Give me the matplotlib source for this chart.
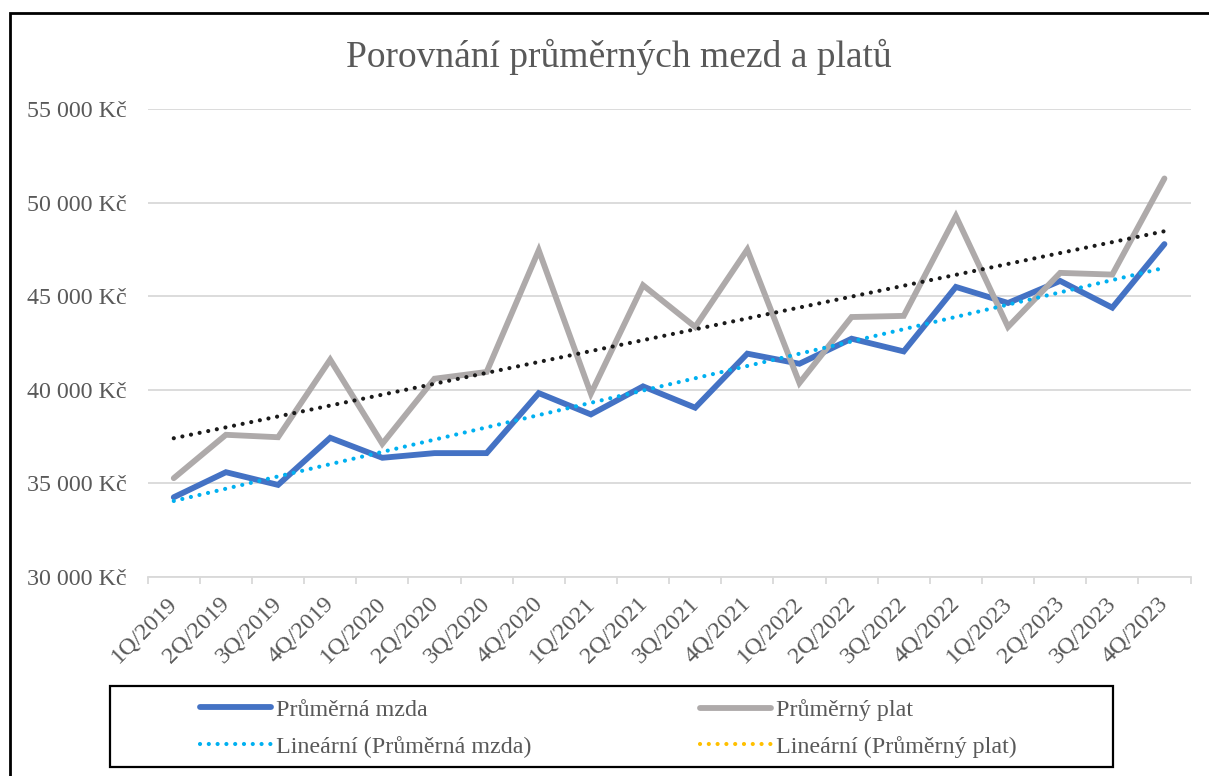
import numpy as np
import matplotlib
matplotlib.use("Agg")
import matplotlib.pyplot as plt
import matplotlib.transforms as mtransforms
from matplotlib.lines import Line2D
from matplotlib.patches import Rectangle

categories = ["1Q/2019", "2Q/2019", "3Q/2019", "4Q/2019",
              "1Q/2020", "2Q/2020", "3Q/2020", "4Q/2020",
              "1Q/2021", "2Q/2021", "3Q/2021", "4Q/2021",
              "1Q/2022", "2Q/2022", "3Q/2022", "4Q/2022",
              "1Q/2023", "2Q/2023", "3Q/2023", "4Q/2023"]
mzda = [34250, 35590, 34910, 37430, 36360, 36610, 36610, 39820,
        38680, 40180, 39040, 41930, 41390, 42730, 42050, 45500,
        44640, 45820, 44390, 47790]
plat = [35270, 37590, 37460, 41610, 37110, 40590, 40950, 47460,
        39790, 45590, 43360, 47500, 40360, 43890, 43950, 49290,
        43360, 46250, 46160, 51300]
yticks = [30000, 35000, 40000, 45000, 50000, 55000]
ytick_labels = ["30 000 Kč", "35 000 Kč", "40 000 Kč", "45 000 Kč", "50 000 Kč", "55 000 Kč"]
title = "Porovnání průměrných mezd a platů"
labels = ["Průměrná mzda", "Průměrný plat", "Lineární (Průměrná mzda)", "Lineární (Průměrný plat)"]

plt.rcParams['font.family'] = ['Liberation Serif', 'DejaVu Serif']

W, H = 1209, 776
fig = plt.figure(figsize=(W / 100, H / 100), dpi=100)

def fx(px):
    return px / W

def fy(py):
    return (H - py) / H

left, right = 147.7, 1190.5
top, bottom = 109.3, 576.7
ax = fig.add_axes([fx(left), fy(bottom), fx(right) - fx(left), fy(top) - fy(bottom)])

x = np.arange(len(categories))
c_mzda = '#4472C4'
c_plat = '#AEAAAA'
c_tr_mzda = '#00B0F0'
c_tr_plat = '#1A1A1A'
c_leg_tr_plat = '#FFC000'
txt = '#595959'
grid = '#D9D9D9'

# trendlines (linear regression as Excel does)
k1, q1 = np.polyfit(x, mzda, 1)
k2, q2 = np.polyfit(x, plat, 1)

ax.plot(x, mzda, color=c_mzda, lw=4.2, solid_joinstyle='miter', solid_capstyle='round', zorder=3)
ax.plot(x, plat, color=c_plat, lw=4.2, solid_joinstyle='miter', solid_capstyle='round', zorder=3)
ax.plot(x, k1 * x + q1, color=c_tr_mzda, lw=3.0, linestyle=(0, (0.01, 2.1)),
        dash_capstyle='round', zorder=4)
ax.plot(x, k2 * x + q2, color=c_tr_plat, lw=3.0, linestyle=(0, (0.01, 2.1)),
        dash_capstyle='round', zorder=4)

ax.set_xlim(-0.5, len(categories) - 0.5)
ax.set_ylim(30000, 55000)
ax.set_yticks(yticks)
ax.set_yticklabels(ytick_labels)
ax.grid(axis='y', color=grid, lw=1.3, zorder=0)
ax.set_axisbelow(True)

for s in ['top', 'right', 'left']:
    ax.spines[s].set_visible(False)
ax.spines['bottom'].set_color(grid)
ax.spines['bottom'].set_linewidth(1.3)

ax.set_xticks(x)
ax.set_xticklabels(categories, rotation=45, ha='right', va='top', rotation_mode='anchor')
ax.set_xticks(np.arange(-0.5, len(categories), 1.0), minor=True)
ax.tick_params(axis='x', which='major', length=0, pad=10, labelsize=17.3, labelcolor=txt)
ax.tick_params(axis='x', which='minor', length=5, width=1.3, color=grid)
ax.tick_params(axis='y', length=0, pad=15, labelsize=17.3, labelcolor=txt)

offset = mtransforms.ScaledTranslation(-7 / 100, -2 / 100, fig.dpi_scale_trans)
for lab in ax.get_xticklabels():
    lab.set_transform(lab.get_transform() + offset)

fig.text(fx(619), fy(57), title, ha='center', va='center', fontsize=27, color=txt)

# legend
h1 = Line2D([], [], color=c_mzda, lw=4.2, solid_capstyle='round')
h2 = Line2D([], [], color=c_plat, lw=4.2, solid_capstyle='round')
h3 = Line2D([], [], color=c_tr_mzda, lw=3.0, linestyle=(0, (0.01, 2.1)), dash_capstyle='round')
h4 = Line2D([], [], color=c_leg_tr_plat, lw=3.0, linestyle=(0, (0.01, 2.1)), dash_capstyle='round')

common = dict(loc='upper left', frameon=False, borderpad=0, borderaxespad=0,
              handlelength=2.95, handletextpad=0.22, labelspacing=0.62,
              prop={'size': 17.3})
leg1 = fig.legend([h1, h3], [labels[0], labels[2]], bbox_to_anchor=(fx(200), fy(699)), **common)
leg2 = fig.legend([h2, h4], [labels[1], labels[3]], bbox_to_anchor=(fx(700), fy(699)), **common)
for lg in (leg1, leg2):
    for t in lg.get_texts():
        t.set_color(txt)

fig.patches.append(Rectangle((fx(110), fy(766.7)), fx(1112.7) - fx(110), fy(686) - fy(766.7),
                             transform=fig.transFigure, fill=False, edgecolor='black', lw=1.6))
fig.patches.append(Rectangle((fx(9.5), fy(800)), fx(1300) - fx(9.5), fy(13) - fy(800),
                             transform=fig.transFigure, fill=False, edgecolor='black', lw=2.0))

fig.savefig('out.png', dpi=100, facecolor='white')
